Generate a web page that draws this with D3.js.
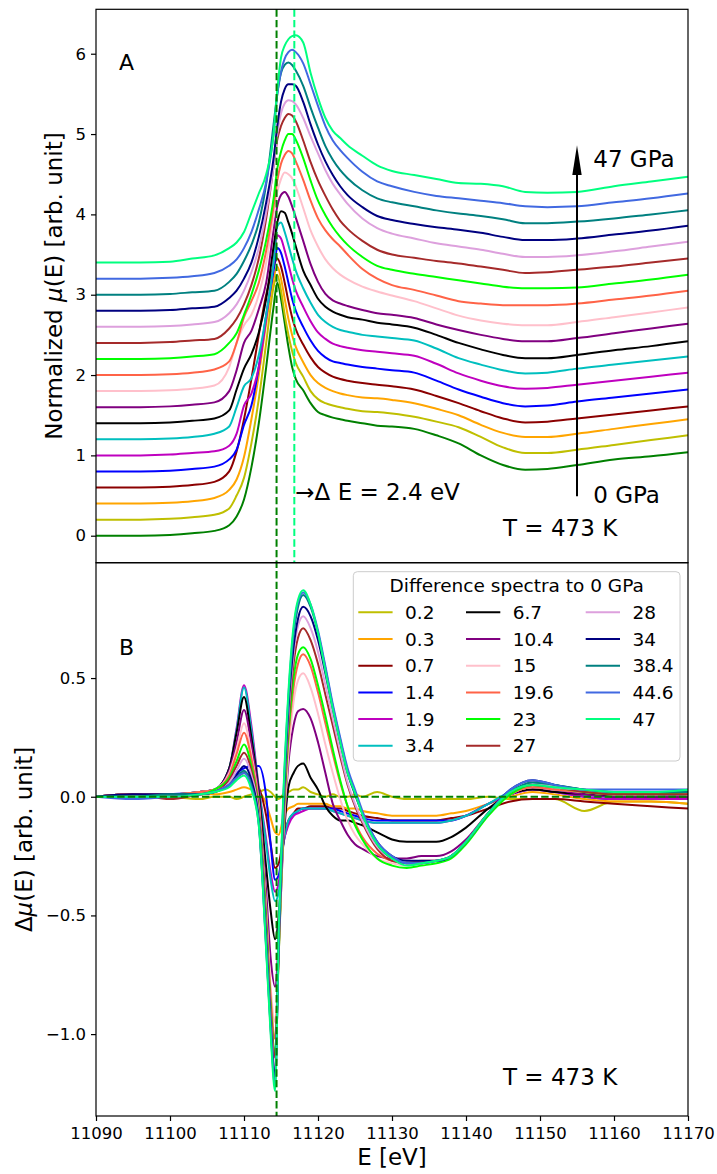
<!DOCTYPE html>
<html><head><meta charset="utf-8">
<script src="https://cdn.jsdelivr.net/npm/d3@7"></script>
<style>
body{margin:0;background:#fff}
svg{display:block}
text{font-family:"DejaVu Sans",sans-serif;fill:#000}
</style>
</head><body>
<svg id="c" width="717" height="1174"></svg>
<script>
// ---------- DATA ----------
const pressures = ["0","0.2","0.3","0.7","1.4","1.9","3.4","6.7","10.4","15","19.6","23","27","28","34","38.4","44.6","47"];
const colors = ["#008000","#bfbf00","#ffa500","#8b0000","#0000ff","#bf00bf","#00bfbf","#000000","#800080","#ffc0cb","#ff6347","#00ff00","#a52a2a","#dda0dd","#000080","#008080","#4169e1","#00ff7f"];
const offsets = [0,0.2,0.4,0.6,0.8,1.0,1.2,1.4,1.6,1.8,2.0,2.2,2.4,2.6,2.8,3.0,3.2,3.4];

// Panel A: normalized mu(E) (unshifted), energies
const energyA = [11090,11096,11100,11103,11106,11108,11109,11110,11111,11112,
  11113,11114,11114.5,11115,11115.5,11116,11116.5,11117,11118,11119,
  11120,11121,11122,11123,11124,11126,11128,11130,11133,11136,
  11139,11142,11145,11148,11151,11155,11160,11165,11170];

const muA_0    = [0,0,0.01,0.03,0.06,0.13,0.24,0.45,0.85,1.4, 2.1,2.85,3.15,2.95,2.65,2.35,2.1,1.95,1.81,1.65, 1.54,1.5,1.47,1.45,1.43,1.4,1.37,1.36,1.33,1.25, 1.15,1.0,0.88,0.82,0.83,0.88,0.95,0.99,1.04];
const muA_0_2  = [0,0,0.01,0.03,0.06,0.14,0.3,0.52,0.95,1.5, 2.2,2.9,3.05,2.85,2.55,2.3,2.1,1.95,1.78,1.6, 1.5,1.45,1.42,1.4,1.38,1.35,1.34,1.32,1.28,1.22, 1.15,1.03,0.9,0.83,0.83,0.87,0.93,0.99,1.05];
const muA_0_3  = [0,0,0.01,0.03,0.07,0.17,0.3,0.58,1.05,1.6, 2.25,2.8,2.95,2.8,2.55,2.3,2.1,1.95,1.76,1.6, 1.5,1.44,1.4,1.37,1.35,1.32,1.31,1.29,1.25,1.18, 1.1,0.98,0.88,0.83,0.83,0.87,0.93,0.99,1.05];
const muA_0_7  = [0,0,0.01,0.03,0.07,0.2,0.45,0.85,1.35,1.9, 2.4,2.75,2.85,2.75,2.55,2.32,2.12,1.97,1.78,1.62, 1.5,1.43,1.38,1.35,1.33,1.3,1.28,1.26,1.22,1.14, 1.05,0.95,0.86,0.81,0.82,0.86,0.91,0.96,1.01];
const muA_1_4  = [0,0,0.01,0.03,0.06,0.15,0.27,0.58,0.82,1.3, 1.95,2.5,2.78,2.72,2.55,2.35,2.15,2.0,1.8,1.63, 1.5,1.42,1.37,1.35,1.33,1.3,1.28,1.26,1.23,1.13, 1.02,0.93,0.85,0.81,0.82,0.87,0.92,0.97,1.02];
const muA_1_9  = [0,0,0.01,0.03,0.05,0.12,0.27,0.62,0.77,1.1, 1.7,2.4,2.74,2.7,2.55,2.38,2.2,2.05,1.85,1.67, 1.53,1.45,1.39,1.36,1.34,1.31,1.29,1.27,1.24,1.14, 1.02,0.93,0.86,0.83,0.84,0.88,0.93,0.98,1.03];
const muA_3_4  = [0,0,0.01,0.03,0.07,0.16,0.4,0.66,0.76,1.05, 1.55,2.2,2.65,2.7,2.58,2.42,2.25,2.1,1.88,1.7, 1.55,1.46,1.4,1.36,1.34,1.3,1.28,1.26,1.23,1.13, 1.01,0.93,0.86,0.82,0.83,0.88,0.93,0.98,1.03];
const muA_6_7  = [0,0,0.01,0.03,0.06,0.16,0.42,0.68,0.86,1.13, 1.55,2.2,2.5,2.64,2.62,2.5,2.36,2.2,1.9,1.72, 1.55,1.45,1.39,1.35,1.32,1.29,1.25,1.23,1.19,1.1, 1.0,0.92,0.85,0.81,0.81,0.85,0.91,0.96,1.02];
const muA_10_4 = [0,0,0.01,0.03,0.06,0.2,0.46,0.8,0.95,1.22, 1.55,2.2,2.5,2.64,2.68,2.62,2.5,2.36,2.07,1.78, 1.56,1.41,1.33,1.29,1.26,1.21,1.17,1.15,1.11,1.03, 0.96,0.9,0.85,0.82,0.82,0.86,0.92,0.98,1.04];
const muA_15   = [0,0,0.01,0.03,0.07,0.3,0.6,0.82,0.95,1.2, 1.6,2.2,2.48,2.64,2.72,2.7,2.65,2.55,2.28,2.0, 1.8,1.64,1.53,1.45,1.39,1.3,1.24,1.19,1.12,1.03, 0.94,0.88,0.84,0.82,0.82,0.86,0.92,0.98,1.04];
const muA_19_6 = [0,0,0.01,0.03,0.07,0.17,0.4,0.72,0.92,1.15, 1.55,2.1,2.42,2.63,2.74,2.79,2.76,2.66,2.43,2.17, 1.95,1.8,1.69,1.6,1.5,1.32,1.2,1.12,1.06,0.99, 0.92,0.89,0.87,0.87,0.87,0.89,0.94,0.99,1.05];
const muA_23   = [0,0,0.01,0.03,0.06,0.2,0.32,0.55,0.8,1.1, 1.48,2.0,2.37,2.58,2.72,2.8,2.8,2.73,2.5,2.22, 1.97,1.79,1.64,1.52,1.42,1.27,1.16,1.11,1.06,1.02, 0.98,0.94,0.9,0.88,0.88,0.89,0.94,0.99,1.05];
const muA_27   = [0,0,0.01,0.03,0.05,0.18,0.3,0.48,0.72,1.05, 1.55,2.2,2.53,2.7,2.8,2.85,2.83,2.76,2.52,2.25, 2.02,1.83,1.66,1.52,1.42,1.27,1.16,1.1,1.06,1.02, 0.99,0.95,0.91,0.87,0.88,0.91,0.95,1.0,1.05];
const muA_28   = [0,0,0.01,0.03,0.06,0.17,0.28,0.45,0.68,0.98, 1.42,2.0,2.4,2.66,2.78,2.82,2.81,2.77,2.6,2.37, 2.16,1.95,1.78,1.65,1.53,1.35,1.23,1.16,1.1,1.04, 1.0,0.96,0.91,0.87,0.87,0.89,0.94,1.0,1.06];
const muA_34   = [0,0,0.01,0.03,0.05,0.16,0.25,0.4,0.6,0.92, 1.35,1.9,2.3,2.6,2.76,2.82,2.82,2.8,2.6,2.32, 2.07,1.86,1.69,1.55,1.44,1.29,1.18,1.13,1.08,1.04, 1.01,0.97,0.92,0.88,0.88,0.9,0.95,1.0,1.06];
const muA_38_4 = [0,0,0.01,0.03,0.05,0.16,0.26,0.42,0.62,0.9, 1.38,2.12,2.5,2.76,2.86,2.89,2.86,2.79,2.6,2.33, 2.08,1.85,1.68,1.55,1.45,1.3,1.2,1.15,1.1,1.05, 1.01,0.98,0.94,0.89,0.89,0.91,0.95,1.0,1.05];
const muA_44_6 = [0,0,0.01,0.03,0.07,0.16,0.24,0.38,0.58,0.86, 1.2,1.8,2.3,2.58,2.74,2.82,2.85,2.82,2.68,2.42, 2.15,1.9,1.72,1.6,1.5,1.33,1.21,1.15,1.08,1.03, 1.0,0.97,0.94,0.9,0.89,0.9,0.95,1.0,1.06];
const muA_47   = [0,0,0.01,0.05,0.09,0.18,0.25,0.38,0.62,0.86, 1.1,1.6,2.15,2.55,2.7,2.78,2.82,2.83,2.74,2.36, 2.05,1.8,1.64,1.55,1.46,1.33,1.21,1.14,1.09,1.04, 0.99,0.98,0.95,0.88,0.87,0.88,0.95,1.01,1.07];

// Panel B: difference spectra to 0 GPa
const energyB = [11090,11095,11100,11104,11106,11108,11109,11110,11111,11112,
  11113,11113.6,11114.2,11114.7,11115.3,11116,11116.7,11117.3,11118,11119,
  11120,11121,11122,11123,11124,11125,11126,11128,11130,11132,
  11134,11136,11138,11140,11143,11146,11149,11152,11156,11160,
  11165,11170];

const dB_0_2  = [0,0.01,0,-0.01,0,0,-0.01,0,0.01,0.02, 0.03,0.02,0,-0.01,0.01,0.02,0.03,0.03,0.04,0.02, 0.01,0,0.01,0,0,0.01,0,0.02,0,-0.01, -0.01,-0.01,-0.01,-0.01,0,-0.01,-0.01,-0.01,-0.06,-0.02, -0.02,-0.03];
const dB_0_3  = [0,0,0,0.01,0.01,0.02,0.03,0.04,0.03,0.02, -0.03,-0.09,-0.15,-0.16,-0.09,-0.05,-0.04,-0.03,-0.03,-0.03, -0.03,-0.03,-0.04,-0.04,-0.05,-0.05,-0.06,-0.07,-0.08,-0.08, -0.08,-0.08,-0.07,-0.06,-0.03,0,0.02,0.01,-0.01,-0.02, -0.02,-0.03];
const dB_0_7  = [0,0,0,0.01,0.02,0.05,0.08,0.1,0.08,0.04, -0.08,-0.2,-0.3,-0.28,-0.18,-0.1,-0.07,-0.05,-0.05,-0.04, -0.04,-0.04,-0.05,-0.05,-0.06,-0.07,-0.08,-0.09,-0.1,-0.1, -0.1,-0.1,-0.09,-0.08,-0.05,-0.02,-0.01,-0.01,-0.02,-0.03, -0.04,-0.05];
const dB_1_4  = [0,0,0.01,0.02,0.03,0.07,0.1,0.12,0.13,0.13, 0,-0.2,-0.35,-0.33,-0.2,-0.11,-0.08,-0.06,-0.05,-0.05, -0.05,-0.05,-0.05,-0.06,-0.07,-0.08,-0.09,-0.1,-0.1,-0.1, -0.1,-0.1,-0.1,-0.08,-0.03,0.01,0.03,0.02,0,-0.01, -0.01,-0.01];
const dB_1_9  = [0,0.01,0.01,0.02,0.03,0.12,0.29,0.47,0.3,0.04, -0.18,-0.32,-0.4,-0.36,-0.2,-0.12,-0.08,-0.07,-0.06,-0.05, -0.05,-0.05,-0.06,-0.07,-0.08,-0.09,-0.1,-0.11,-0.11,-0.11, -0.11,-0.11,-0.1,-0.08,-0.03,0.01,0.03,0.02,0,-0.01, -0.01,-0.01];
const dB_3_4  = [0,0.01,0.01,0.02,0.03,0.12,0.28,0.46,0.28,0.03, -0.2,-0.35,-0.44,-0.4,-0.2,-0.1,-0.07,-0.06,-0.05,-0.05, -0.05,-0.05,-0.06,-0.07,-0.08,-0.09,-0.1,-0.11,-0.11,-0.11, -0.11,-0.11,-0.1,-0.08,-0.03,0.02,0.04,0.03,0.01,0, 0,0.01];
const dB_6_7  = [0,0.01,0.01,0.02,0.03,0.12,0.27,0.42,0.25,0.02, -0.3,-0.48,-0.6,-0.5,-0.2,0.04,0.1,0.13,0.14,0.08, 0.03,-0.04,-0.08,-0.1,-0.1,-0.11,-0.12,-0.15,-0.18,-0.19, -0.19,-0.19,-0.17,-0.13,-0.05,0.01,0.03,0.02,0.01,0, 0,0];
const dB_10_4 = [0,0.01,0,0.02,0.03,0.11,0.23,0.365,0.22,0, -0.4,-0.68,-0.8,-0.6,-0.2,0.14,0.3,0.36,0.37,0.33, 0.23,0.1,-0.03,-0.1,-0.16,-0.2,-0.22,-0.25,-0.26,-0.26, -0.25,-0.25,-0.23,-0.18,-0.07,0.01,0.04,0.03,0.01,0, 0,0];
const dB_15   = [0,0.01,0.01,0.02,0.03,0.1,0.2,0.31,0.18,-0.03, -0.47,-0.8,-0.95,-0.65,-0.18,0.18,0.4,0.49,0.52,0.46, 0.35,0.22,0.1,-0.01,-0.1,-0.16,-0.2,-0.26,-0.28,-0.29, -0.28,-0.27,-0.25,-0.19,-0.07,0.01,0.04,0.03,0.02,0.01, 0.01,0.01];
const dB_19_6 = [0,0.01,0.01,0.02,0.03,0.09,0.18,0.27,0.16,-0.04, -0.5,-0.84,-1.02,-0.66,-0.15,0.24,0.46,0.56,0.6,0.55, 0.44,0.31,0.18,0.06,-0.04,-0.11,-0.17,-0.24,-0.27,-0.28, -0.27,-0.27,-0.25,-0.19,-0.07,0.01,0.04,0.03,0.02,0.01, 0.01,0.01];
const dB_23   = [0,0,0.01,0.01,0.03,0.08,0.15,0.22,0.13,-0.06, -0.52,-0.88,-1.08,-0.66,-0.13,0.26,0.5,0.6,0.63,0.58, 0.47,0.34,0.2,0.07,-0.04,-0.12,-0.18,-0.26,-0.29,-0.3, -0.29,-0.28,-0.26,-0.2,-0.08,0.01,0.05,0.04,0.02,0.01, 0.01,0.02];
const dB_27   = [0,0.01,-0.01,0.01,0.02,0.07,0.13,0.185,0.11,-0.07, -0.55,-0.9,-1.1,-0.64,-0.1,0.3,0.56,0.67,0.71,0.66, 0.56,0.43,0.3,0.17,0.05,-0.04,-0.11,-0.22,-0.27,-0.28, -0.28,-0.27,-0.25,-0.19,-0.07,0.02,0.05,0.04,0.02,0.01, 0.01,0.01];
const dB_28   = [0,0,0.01,0.01,0.02,0.06,0.11,0.16,0.09,-0.08, -0.58,-0.93,-1.15,-0.62,-0.08,0.34,0.6,0.72,0.76,0.71, 0.61,0.47,0.33,0.19,0.06,-0.03,-0.1,-0.21,-0.26,-0.28, -0.28,-0.27,-0.25,-0.19,-0.07,0.02,0.06,0.04,0.03,0.02, 0.02,0.02];
const dB_34   = [0,0.01,0.01,0.01,0.02,0.05,0.09,0.13,0.07,-0.1, -0.6,-0.95,-1.18,-0.6,-0.06,0.37,0.63,0.75,0.8,0.76, 0.66,0.52,0.37,0.23,0.1,0.01,-0.07,-0.19,-0.25,-0.27, -0.27,-0.27,-0.25,-0.19,-0.07,0.03,0.07,0.05,0.03,0.02, 0.02,0.02];
const dB_38_4 = [0,0,0.01,0.01,0.02,0.05,0.08,0.11,0.05,-0.11, -0.63,-0.97,-1.2,-0.58,-0.04,0.4,0.68,0.8,0.85,0.8, 0.69,0.54,0.38,0.24,0.11,0.02,-0.07,-0.2,-0.26,-0.28, -0.28,-0.27,-0.25,-0.19,-0.07,0.02,0.06,0.05,0.03,0.02, 0.02,0.02];
const dB_44_6 = [0,-0.01,0,0.01,0.02,0.05,0.08,0.1,0.04,-0.12, -0.64,-0.98,-1.22,-0.56,-0.02,0.42,0.7,0.82,0.86,0.81, 0.7,0.55,0.39,0.25,0.12,0.03,-0.06,-0.19,-0.25,-0.28, -0.28,-0.27,-0.25,-0.19,-0.07,0.03,0.07,0.05,0.03,0.03, 0.03,0.03];
const dB_47   = [0,0,0,0.01,0.02,0.04,0.07,0.09,0.03,-0.12, -0.65,-1.0,-1.24,-0.55,0,0.44,0.72,0.83,0.87,0.81, 0.69,0.53,0.37,0.23,0.1,0.015,-0.075,-0.2,-0.26,-0.29, -0.28,-0.27,-0.25,-0.19,-0.07,0.02,0.05,0.04,0.03,0.02, 0.02,0.03];

// Reference edge positions (eV) and axis ticks
const edgeRef = 11114.4, edgeHigh = 11116.8;
const xTicks = [11090,11100,11110,11120,11130,11140,11150,11160,11170];
const yTicksA = [0,1,2,3,4,5,6];
const yTicksB = [-1.0,-0.5,0.0,0.5];

const seriesA = [muA_0,muA_0_2,muA_0_3,muA_0_7,muA_1_4,muA_1_9,muA_3_4,muA_6_7,muA_10_4,muA_15,muA_19_6,muA_23,muA_27,muA_28,muA_34,muA_38_4,muA_44_6,muA_47];
const seriesB = [dB_0_2,dB_0_3,dB_0_7,dB_1_4,dB_1_9,dB_3_4,dB_6_7,dB_10_4,dB_15,dB_19_6,dB_23,dB_27,dB_28,dB_34,dB_38_4,dB_44_6,dB_47];

// ---------- LAYOUT ----------
const svg = d3.select("#c");
const L = 96, R = 688;
const topA = 9.3, botA = 562.7, topB = 562.7, botB = 1116;

const x = d3.scaleLinear().domain([11090,11170]).range([L,R]);
const yA = d3.scaleLinear().domain([-0.336,6.553]).range([botA,topA]);
const yB = d3.scaleLinear().domain([-1.345,0.986]).range([botB,topB]);

const defs = svg.append("defs");
defs.append("clipPath").attr("id","clipA").append("rect").attr("x",L).attr("y",topA).attr("width",R-L).attr("height",botA-topA);
defs.append("clipPath").attr("id","clipB").append("rect").attr("x",L).attr("y",topB).attr("width",R-L).attr("height",botB-topB);

// ---------- PANEL A ----------
const gA = svg.append("g").attr("clip-path","url(#clipA)");
seriesA.forEach((s,i)=>{
  const line = d3.line().x((d,j)=>x(energyA[j])).y(d=>yA(d+offsets[i])).curve(d3.curveMonotoneX);
  gA.append("path").attr("d",line(s)).attr("fill","none").attr("stroke",colors[i]).attr("stroke-width",2).attr("stroke-linejoin","round");
});
gA.append("line").attr("x1",x(edgeHigh)).attr("x2",x(edgeHigh)).attr("y1",topA).attr("y2",botA)
  .attr("stroke","#00ff7f").attr("stroke-width",2).attr("stroke-dasharray","7.4,3.2");

// arrow
const ax = x(11155);
svg.append("line").attr("x1",ax).attr("x2",ax).attr("y1",yA(0.49)).attr("y2",yA(4.5))
  .attr("stroke","#000").attr("stroke-width",2);
svg.append("path").attr("d",`M${ax},${yA(4.86)} L${ax-4.7},${yA(4.49)} L${ax+4.7},${yA(4.49)} Z`).attr("fill","#000");

svg.append("text").attr("x",x(11157.2)).attr("y",yA(4.59)).attr("font-size",23).text("47 GPa");
svg.append("text").attr("x",x(11157.2)).attr("y",yA(0.405)).attr("font-size",23).text("0 GPa");
svg.append("text").attr("x",503).attr("y",536).attr("font-size",23).text("T = 473 K");
svg.append("text").attr("x",119).attr("y",70).attr("font-size",22).text("A");
svg.append("text").attr("x",x(edgeHigh)+1).attr("y",yA(0.445)).attr("font-size",23).text("\u2192\u0394 E = 2.4 eV");

const axA = svg.append("g").attr("transform",`translate(${L},0)`)
  .call(d3.axisLeft(yA).tickValues(yTicksA).tickSize(5).tickPadding(5).tickFormat(d3.format("d")));
axA.select(".domain").remove();
axA.selectAll("text").attr("font-size",16.5).attr("font-family","DejaVu Sans").attr("fill","#000");
axA.selectAll("line").attr("stroke","#000").attr("stroke-width",1.2);

// ---------- PANEL B ----------
const gB = svg.append("g").attr("clip-path","url(#clipB)");
seriesB.forEach((s,i)=>{
  const line = d3.line().x((d,j)=>x(energyB[j])).y(d=>yB(d)).curve(d3.curveMonotoneX);
  gB.append("path").attr("d",line(s)).attr("fill","none").attr("stroke",colors[i+1]).attr("stroke-width",2).attr("stroke-linejoin","round");
});
gB.append("line").attr("x1",L).attr("x2",R).attr("y1",yB(0)).attr("y2",yB(0))
  .attr("stroke","#008000").attr("stroke-width",2).attr("stroke-dasharray","7.4,3.2");

svg.append("line").attr("x1",x(edgeRef)).attr("x2",x(edgeRef)).attr("y1",topA).attr("y2",botB)
  .attr("stroke","#008000").attr("stroke-width",2).attr("stroke-dasharray","7.4,3.2");

svg.append("text").attr("x",119).attr("y",655).attr("font-size",22).text("B");
svg.append("text").attr("x",503).attr("y",1085).attr("font-size",23).text("T = 473 K");

const axB = svg.append("g").attr("transform",`translate(${L},0)`)
  .call(d3.axisLeft(yB).tickValues(yTicksB).tickSize(5).tickPadding(5).tickFormat(d3.format(".1f")));
axB.select(".domain").remove();
axB.selectAll("text").attr("font-size",16.5).attr("font-family","DejaVu Sans").attr("fill","#000");
axB.selectAll("line").attr("stroke","#000").attr("stroke-width",1.2);

const axX = svg.append("g").attr("transform",`translate(0,${botB})`)
  .call(d3.axisBottom(x).tickValues(xTicks).tickSize(5).tickPadding(6.5).tickFormat(d3.format("d")));
axX.select(".domain").remove();
axX.selectAll("text").attr("font-size",16.5).attr("font-family","DejaVu Sans").attr("fill","#000");
axX.selectAll("line").attr("stroke","#000").attr("stroke-width",1.2);

[[topA,botA],[topB,botB]].forEach(([t,b])=>{
  svg.append("rect").attr("x",L).attr("y",t).attr("width",R-L).attr("height",b-t)
    .attr("fill","none").attr("stroke","#000").attr("stroke-width",1.2);
});

// legend
const lg = svg.append("g");
lg.append("rect").attr("x",353.3).attr("y",571.7).attr("width",326.7).attr("height",189.3).attr("rx",4)
  .attr("fill","#fff").attr("fill-opacity",0.8).attr("stroke","#cccccc").attr("stroke-width",1);
lg.append("text").attr("x",516.7).attr("y",591.5).attr("text-anchor","middle").attr("font-size",18.5).text("Difference spectra to 0 GPa");
const colX = [358.3,466,585.7];
pressures.slice(1).forEach((p,i)=>{
  const c = Math.floor(i/6), r = i%6;
  const cy = 612.3 + r*26.7;
  lg.append("line").attr("x1",colX[c]).attr("x2",colX[c]+34.3).attr("y1",cy).attr("y2",cy)
    .attr("stroke",colors[i+1]).attr("stroke-width",2);
  lg.append("text").attr("x",colX[c]+46.7).attr("y",cy+6.6).attr("font-size",18.5).text(p);
});

// axis labels
const yl = svg.append("text").attr("transform","translate(62,286) rotate(-90)").attr("text-anchor","middle").attr("font-size",23);
yl.append("tspan").text("Normalized ");
yl.append("tspan").attr("font-style","italic").text("\u03bc");
yl.append("tspan").text("(E) [arb. unit]");

const yl2 = svg.append("text").attr("transform","translate(32,839.4) rotate(-90)").attr("text-anchor","middle").attr("font-size",23);
yl2.append("tspan").text("\u0394");
yl2.append("tspan").attr("font-style","italic").text("\u03bc");
yl2.append("tspan").text("(E) [arb. unit]");

svg.append("text").attr("x",392).attr("y",1165).attr("text-anchor","middle").attr("font-size",23).text("E [eV]");
</script>
</body></html>
